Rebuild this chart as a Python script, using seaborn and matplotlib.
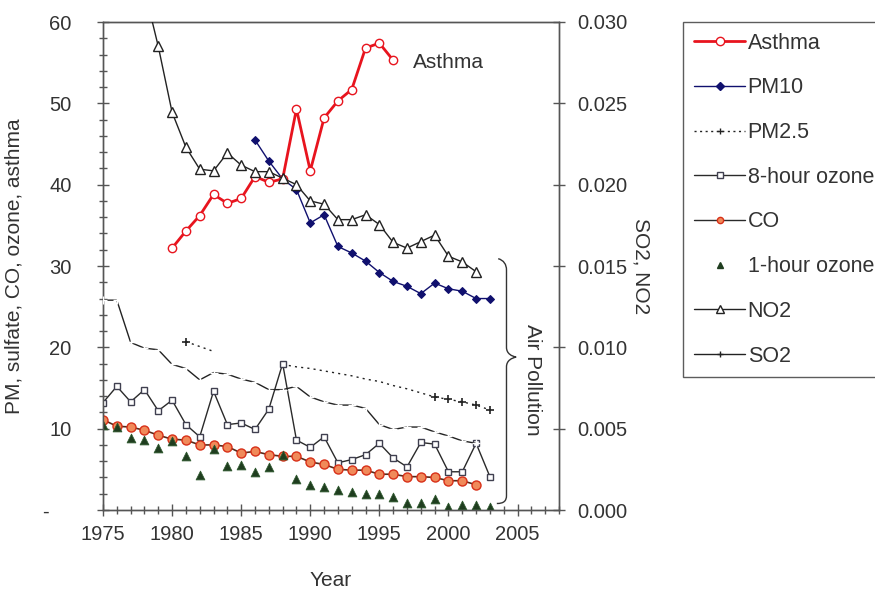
import numpy as np
import pandas as pd
import matplotlib
matplotlib.use("Agg")
import matplotlib.pyplot as plt
from matplotlib.lines import Line2D
from matplotlib.path import Path
from matplotlib.patches import PathPatch
from matplotlib.ticker import MultipleLocator, FuncFormatter
import seaborn as sns

# ---- data -------------------------------------------------------------
asthma_years = list(range(1980, 1997))
asthma = [32.2, 34.3, 36.2, 38.8, 37.7, 38.3, 41.0, 40.3, 40.7, 49.3,
          41.7, 48.2, 50.3, 51.7, 56.8, 57.4, 55.3]

pm10_years = list(range(1986, 2004))
pm10 = [45.5, 42.9, 40.7, 39.4, 35.3, 36.3, 32.4, 31.6, 30.6, 29.2,
        28.1, 27.5, 26.6, 27.9, 27.2, 26.9, 26.0, 26.0]

pm25_years = list(range(1981, 2004))
pm25 = [20.7, 20.1, 19.5, np.nan, np.nan, np.nan, np.nan, 17.9, 17.6, 17.4,
        17.1, 16.8, 16.5, 16.1, 15.8, 15.3, 14.9, 14.4, 13.9, 13.6,
        13.3, 12.9, 12.3]

ozone8_years = list(range(1975, 2004))
ozone8 = [13.2, 15.2, 13.3, 14.8, 12.2, 13.5, 10.5, 9.0, 14.6, 10.5,
          10.7, 9.9, 12.4, 18.0, 8.6, 7.7, 9.0, 5.8, 6.2, 6.8,
          8.2, 6.4, 5.3, 8.3, 8.1, 4.7, 4.7, 8.2, 4.1]

co_years = list(range(1975, 2003))
co = [11.1, 10.3, 10.2, 9.8, 9.2, 8.7, 8.6, 8.0, 8.0, 7.8,
      7.0, 7.2, 6.8, 6.6, 6.6, 5.9, 5.6, 5.0, 4.9, 4.9,
      4.4, 4.4, 4.1, 4.1, 4.0, 3.6, 3.6, 3.1]

ozone1_years = list(range(1975, 2004))
ozone1 = [10.5, 10.2, 8.9, 8.6, 7.6, 8.5, 6.6, 4.3, 7.5, 5.4,
          5.5, 4.7, 5.3, 6.8, 3.8, 3.1, 2.8, 2.4, 2.2, 2.0,
          2.0, 1.6, 0.9, 0.9, 1.3, 0.4, 0.6, 0.6, 0.4]

no2_years = list(range(1978, 2003))
no2 = [0.0320, 0.0285, 0.02445, 0.0223, 0.02095, 0.02085, 0.02195, 0.0212,
       0.0208, 0.0208, 0.0204, 0.0200, 0.0190, 0.0188, 0.01785, 0.01785,
       0.01815, 0.01755, 0.01645, 0.0161, 0.0165, 0.0169, 0.0156, 0.01525,
       0.01465]

so2_years = list(range(1975, 2003))
so2 = [0.0129, 0.0129, 0.0103, 0.00995, 0.00985, 0.00895, 0.0087, 0.0080,
       0.00845, 0.00835, 0.00805, 0.00785, 0.0074, 0.0074, 0.0076, 0.00695,
       0.00665, 0.00645, 0.00645, 0.00625, 0.00525, 0.00495, 0.0051, 0.0051,
       0.0048, 0.00455, 0.00425, 0.0041]

# ---- style ------------------------------------------------------------
sns.set_style("white")
plt.rcParams["font.family"] = ["Liberation Sans", "DejaVu Sans"]
FS = 15
FS_TICK = 14.5
TXT = "#333333"
AX = "#555555"

fig = plt.figure(figsize=(8.75, 5.94), dpi=100)
ax = fig.add_axes([103 / 875, 1 - 510 / 594, (559 - 103) / 875, (510 - 22) / 594])
ax2 = ax.twinx()

# ---- left-axis series -------------------------------------------------
sns.lineplot(x=asthma_years, y=asthma, ax=ax, color="#e8141e", lw=2.0,
             marker="o", markersize=6, markerfacecolor="white",
             markeredgecolor="#e8141e", markeredgewidth=1.0, zorder=6)

sns.lineplot(x=pm10_years, y=pm10, ax=ax, color="#10106e", lw=1.0,
             marker="D", markersize=4.5, markerfacecolor="#10106e",
             markeredgecolor="#10106e", zorder=5)

pm = pd.DataFrame({"year": pm25_years, "val": pm25})
pm["block"] = pm["val"].isna().cumsum()
for _, seg in pm.dropna().groupby("block"):
    sns.lineplot(data=seg, x="year", y="val", ax=ax, color="#222222", lw=1.0,
                 linestyle=(0, (1.5, 3)), zorder=4)
pm_marked = pm.dropna()
pm_marked = pm_marked[(pm_marked["year"] == 1981) | (pm_marked["year"] >= 1999)]
sns.scatterplot(data=pm_marked, x="year", y="val", ax=ax, marker="+", s=30,
                color="#222222", linewidth=1.2, zorder=4)

sns.lineplot(x=ozone8_years, y=ozone8, ax=ax, color="#2a2a2a", lw=1.0,
             marker="s", markersize=5, markerfacecolor="white",
             markeredgecolor="#404050", markeredgewidth=1.0, zorder=4)

sns.lineplot(x=co_years, y=co, ax=ax, color="#5a2a1a", lw=1.2,
             marker="o", markersize=6.5, markerfacecolor="#f08a5a",
             markeredgecolor="#d83018", markeredgewidth=1.0, zorder=5)

sns.scatterplot(x=ozone1_years, y=ozone1, ax=ax, marker="^", s=40,
                color="#1f3d1f", edgecolor="#2f5a2f", linewidth=0.6, zorder=6)

# ---- right-axis series ------------------------------------------------
sns.lineplot(x=no2_years, y=no2, ax=ax2, color="#222222", lw=1.0,
             marker="^", markersize=7, markerfacecolor="white",
             markeredgecolor="#222222", markeredgewidth=1.0, zorder=4)

sns.lineplot(x=so2_years, y=so2, ax=ax2, color="#222222", lw=1.0,
             marker="+", markersize=6, markeredgewidth=1.0, zorder=4)

# ---- axes -------------------------------------------------------------
ax.set_xlim(1975, 2008)
ax.set_ylim(0, 60)
ax2.set_ylim(0, 0.030)

ax.xaxis.set_major_locator(MultipleLocator(5))
ax.xaxis.set_minor_locator(MultipleLocator(1))
ax.yaxis.set_major_locator(MultipleLocator(10))
ax.yaxis.set_minor_locator(MultipleLocator(2))
ax2.yaxis.set_major_locator(MultipleLocator(0.005))
ax.xaxis.set_major_formatter(FuncFormatter(lambda v, p: f"{int(round(v))}" if v < 2006 else ""))
ax.yaxis.set_major_formatter(
    FuncFormatter(lambda v, p: "-\u2007\u2007" if abs(v) < 1e-9 else f"{v:g}"))
ax2.yaxis.set_major_formatter(FuncFormatter(lambda v, p: f"{v:.3f}"))

for a in (ax, ax2):
    for s in a.spines.values():
        s.set_visible(True)
        s.set_color(AX)
        s.set_linewidth(1.0)

ax.tick_params(axis="both", which="major", direction="inout", length=9, width=1,
               color=AX, labelsize=FS_TICK, labelcolor=TXT, left=True, bottom=True)
ax.tick_params(axis="both", which="minor", direction="inout", length=6, width=1,
               color=AX, left=True, bottom=True)
ax.tick_params(axis="y", which="major", pad=18)
ax.tick_params(axis="x", which="major", pad=6)
ax2.tick_params(axis="y", which="major", direction="inout", length=9, width=1,
                color=AX, labelsize=FS_TICK, labelcolor=TXT, right=True, pad=9)

ax.set_xlabel("Year", fontsize=FS, color=TXT, labelpad=20)
ax.set_ylabel("PM, sulfate, CO, ozone, asthma", fontsize=FS, color=TXT, labelpad=14)
ax2.set_ylabel("SO2, NO2", fontsize=FS, color=TXT, rotation=270, labelpad=16)

# ---- annotations ------------------------------------------------------
ax.text(1997.4, 55.0, "Asthma", fontsize=FS, color=TXT, va="center", ha="left")

bx, tip = 2004.2, 2004.9
verts = [(2003.6, 30.9), (2004.0, 30.7), (bx, 30.2), (bx, 29.5),
         (bx, 20.0),
         (bx, 19.2), (tip - 0.3, 18.9), (tip, 18.8),
         (tip - 0.3, 18.7), (bx, 18.4), (bx, 17.6),
         (bx, 1.8),
         (bx, 1.1), (2004.0, 0.8), (2003.5, 0.8)]
codes = [Path.MOVETO, Path.CURVE4, Path.CURVE4, Path.CURVE4,
         Path.LINETO,
         Path.CURVE4, Path.CURVE4, Path.CURVE4,
         Path.CURVE4, Path.CURVE4, Path.CURVE4,
         Path.LINETO,
         Path.CURVE4, Path.CURVE4, Path.CURVE4]
ax.add_patch(PathPatch(Path(verts, codes), fill=False, lw=1.0,
                       edgecolor="#333333", clip_on=False, zorder=7))
ax.text(2006.1, 16.0, "Air Pollution", fontsize=FS, color=TXT, rotation=270,
        ha="center", va="center")

# ---- legend -----------------------------------------------------------
handles = [
    Line2D([], [], color="#e8141e", lw=2.0, marker="o", markersize=6,
           markerfacecolor="white", markeredgecolor="#e8141e"),
    Line2D([], [], color="#10106e", lw=1.0, marker="D", markersize=4,
           markerfacecolor="#10106e", markeredgecolor="#10106e"),
    Line2D([], [], color="#222222", lw=1.0, linestyle=(0, (1.5, 2.5)),
           marker="+", markersize=5),
    Line2D([], [], color="#2a2a2a", lw=1.0, marker="s", markersize=4.5,
           markerfacecolor="white", markeredgecolor="#404050"),
    Line2D([], [], color="#2a2a2a", lw=1.0, marker="o", markersize=4.5,
           markerfacecolor="#f08a5a", markeredgecolor="#d83018"),
    Line2D([], [], color="none", marker="^", markersize=5,
           markerfacecolor="#1f3d1f", markeredgecolor="#1f3d1f"),
    Line2D([], [], color="#222222", lw=1.0, marker="^", markersize=5.5,
           markerfacecolor="white", markeredgecolor="#222222"),
    Line2D([], [], color="#222222", lw=1.0, marker="+", markersize=5),
]
labels = ["Asthma", "PM10", "PM2.5", "8-hour ozone", "CO", "1-hour ozone",
          "NO2", "SO2"]
leg = fig.legend(handles, labels, loc="upper left",
                 bbox_to_anchor=(683 / 875, 1 - 22 / 594), frameon=True,
                 fontsize=15.5, handlelength=2.4, handletextpad=0.1,
                 labelspacing=1.1, borderpad=0.5, borderaxespad=0,
                 fancybox=False, labelcolor=TXT)
leg.get_frame().set_edgecolor("#333333")
leg.get_frame().set_linewidth(1.0)

fig.savefig("out.png", dpi=100)
